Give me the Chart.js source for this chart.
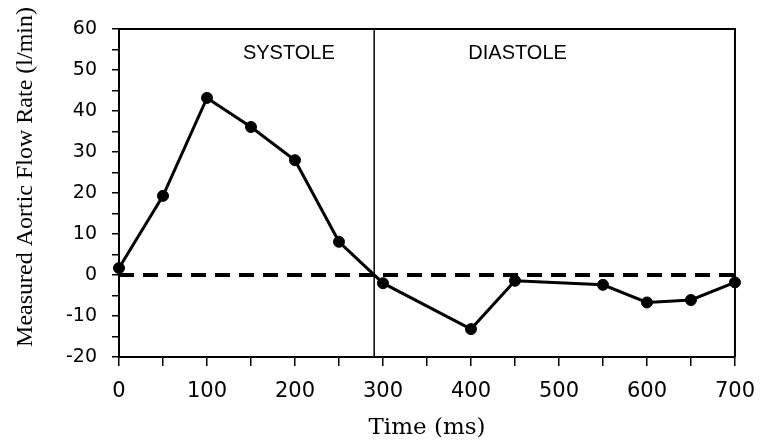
<!DOCTYPE html>
<html>
<head>
<meta charset="utf-8">
<script src="https://cdn.jsdelivr.net/npm/chart.js@4"></script>
<style>
  html, body { margin: 0; padding: 0; background: #fff; }
</style>
</head>
<body>
<canvas id="flowChart" width="768" height="443"></canvas>
<script>
// measured points
const timeMs = [0, 50, 100, 150, 200, 250, 300, 400, 450, 550, 600, 650, 700];
const flowRate = [1.7, 19.3, 43.2, 36.1, 28.0, 8.1, -2.0, -13.2, -1.4, -2.4, -6.7, -6.1, -1.8];

// dashed zero line
const baselineX = [0, 700];
const baselineY = [0, 0];

// systole / diastole split
const phaseBoundary = 290;
const phaseLabels = ['SYSTOLE', 'DIASTOLE'];
const phaseLabelX = [193, 453];
const phaseLabelY = [54, 54];

const xRange = [0, 700];
const yRange = [-20, 60];

const black = '#000';

const toPoints = (xs, ys) => xs.map((x, i) => ({ x: x, y: ys[i] }));

// frame, phase divider and the text inside the plot
const frame = {
    id: 'frame',
    beforeDatasetsDraw(chart) {
        const { ctx, chartArea: a, scales } = chart;
        const xb = scales.x.getPixelForValue(phaseBoundary);
        ctx.save();
        ctx.strokeStyle = black;
        ctx.lineWidth = 1.5;
        ctx.beginPath();
        ctx.moveTo(xb, a.top);
        ctx.lineTo(xb, a.bottom);
        ctx.stroke();
        ctx.lineWidth = 2;
        ctx.beginPath();
        ctx.moveTo(a.left, a.top);
        ctx.lineTo(a.right, a.top);
        ctx.lineTo(a.right, a.bottom);
        ctx.stroke();
        ctx.restore();
    },
    afterDraw(chart) {
        const { ctx, scales } = chart;
        ctx.save();
        ctx.fillStyle = black;
        ctx.textAlign = 'center';
        ctx.textBaseline = 'middle';
        ctx.font = '20px "Liberation Sans"';
        phaseLabels.forEach((t, i) => {
            ctx.fillText(t, scales.x.getPixelForValue(phaseLabelX[i]), scales.y.getPixelForValue(phaseLabelY[i]));
        });
        ctx.font = '24px "Liberation Serif"';
        ctx.translate(26, 177);
        ctx.rotate(-Math.PI / 2);
        ctx.fillText('Measured Aortic Flow Rate (l/min)', 0, 0);
        ctx.restore();
    }
};

const ctx = document.getElementById('flowChart').getContext('2d');
const flowChart = new Chart(ctx, {
    type: 'line',
    data: {
        datasets: [{
            data: toPoints(timeMs, flowRate),
            borderColor: black,
            borderWidth: 3,
            pointRadius: 5.5,
            pointBackgroundColor: black,
            pointBorderColor: black,
            pointBorderWidth: 1,
            clip: false,
            order: 1
        }, {
            data: toPoints(baselineX, baselineY),
            borderColor: black,
            borderWidth: 4,
            borderDash: [15, 9],
            pointRadius: 0,
            clip: false,
            order: 2
        }]
    },
    options: {
        responsive: false,
        animation: false,
        layout: { padding: { top: 29, right: 31, left: 0, bottom: 0 } },
        plugins: { legend: { display: false }, tooltip: { enabled: false } },
        scales: {
            x: {
                type: 'linear',
                min: xRange[0],
                max: xRange[1],
                afterFit: (s) => { s.height = 86; },
                ticks: {
                    stepSize: 50,
                    autoSkip: false,
                    maxRotation: 0,
                    color: black,
                    font: { family: 'DejaVu Sans', size: 21 },
                    padding: 13,
                    callback: (v) => (v % 100 === 0 ? v : '')
                },
                grid: { drawOnChartArea: false, drawTicks: true, tickLength: 9, color: black, lineWidth: 1.5 },
                border: { color: black, width: 2 },
                title: {
                    display: true,
                    text: 'Time (ms)',
                    color: black,
                    font: { family: 'DejaVu Serif', size: 23 },
                    padding: { top: 0, bottom: 1 }
                }
            },
            y: {
                min: yRange[0],
                max: yRange[1],
                afterFit: (s) => { s.width = 119; },
                ticks: {
                    stepSize: 5,
                    autoSkip: false,
                    color: black,
                    font: { family: 'DejaVu Sans', size: 19 },
                    padding: 15,
                    callback: (v) => (v % 10 === 0 ? v : '')
                },
                grid: { drawOnChartArea: false, drawTicks: true, tickLength: 7, color: black, lineWidth: 1.5 },
                border: { color: black, width: 2 }
            }
        }
    },
    plugins: [frame]
});
</script>
</body>
</html>
